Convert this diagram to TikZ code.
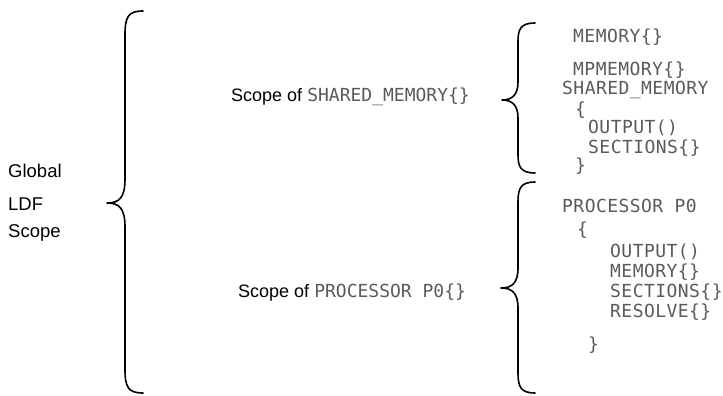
\documentclass[tikz,border=0pt]{standalone}
\usepackage{fontspec}
\setmainfont{Liberation Sans}
\newfontfamily\monoR[LetterSpace=2.5]{DejaVu Sans Mono}
\newfontfamily\monoM{DejaVu Sans Mono}
\definecolor{codegray}{HTML}{5A5A5A}
\newcommand{\curlybrace}[7]{% xend xline xcusp ytop ycusp ybot r
  \draw[bracestyle] (#1,#4) .. controls (#2+3,#4) and (#2,#4+6) .. (#2,#4+#7)
    -- (#2,#5-#7) .. controls (#2,#5-5) and (#2-6,#5) .. (#3,#5)
    .. controls (#2-6,#5) and (#2,#5+5) .. (#2,#5+#7)
    -- (#2,#6-#7) .. controls (#2,#6-6) and (#2+3,#6) .. (#1,#6);}
\begin{document}
\begin{tikzpicture}[x=1pt,y=-1pt,
  bracestyle/.style={draw=black,line width=1.6pt,line cap=round,line join=round},
  lbl/.style={anchor=base west,inner sep=0pt,font=\fontsize{18}{20}\selectfont},
  code/.style={anchor=base west,inner sep=0pt,text=codegray,font=\fontsize{18}{20}\selectfont\monoR}]
\useasboundingbox (0,0) rectangle (723,396);
% braces
\curlybrace{143}{125}{107}{11}{203}{393}{24}
\curlybrace{535}{518}{502}{23}{100}{173}{18}
\curlybrace{535}{518}{501}{182}{288}{393}{20}
% left labels
\node[lbl,font=\fontsize{18.5}{20}\selectfont] (g1) at (8,177) {Global};
\node[lbl,font=\fontsize{18.5}{20}\selectfont] (g2) at (8,210) {LDF};
\node[lbl,font=\fontsize{18.5}{20}\selectfont] (g3) at (8,237) {Scope};
% middle labels
\node[lbl] (s1) at (231,102) {Scope of {\color{codegray}\monoM SHARED\_MEMORY\{\}}};
\node[lbl] (s2) at (238,297) {Scope of {\color{codegray}\monoM PROCESSOR P0\{\}}};
% right code
\node[code] (c1) at (573,43) {MEMORY\{\}};
\node[code] (c2) at (573,75) {MPMEMORY\{\}};
\node[code] (c3) at (562,95) {SHARED\_MEMORY};
\node[code] (c4) at (575,115) {\{};
\node[code] (c5) at (588,133) {OUTPUT()};
\node[code] (c6) at (588,153) {SECTIONS\{\}};
\node[code] (c7) at (575,171) {\}};
\node[code] (d1) at (562,212) {PROCESSOR P0};
\node[code] (d2) at (577,235) {\{};
\node[code] (d3) at (610,257) {OUTPUT()};
\node[code] (d4) at (610,277) {MEMORY\{\}};
\node[code] (d5) at (610,297) {SECTIONS\{\}};
\node[code] (d6) at (610,317) {RESOLVE\{\}};
\node[code] (d7) at (588,350) {\}};
\end{tikzpicture}
\end{document}
